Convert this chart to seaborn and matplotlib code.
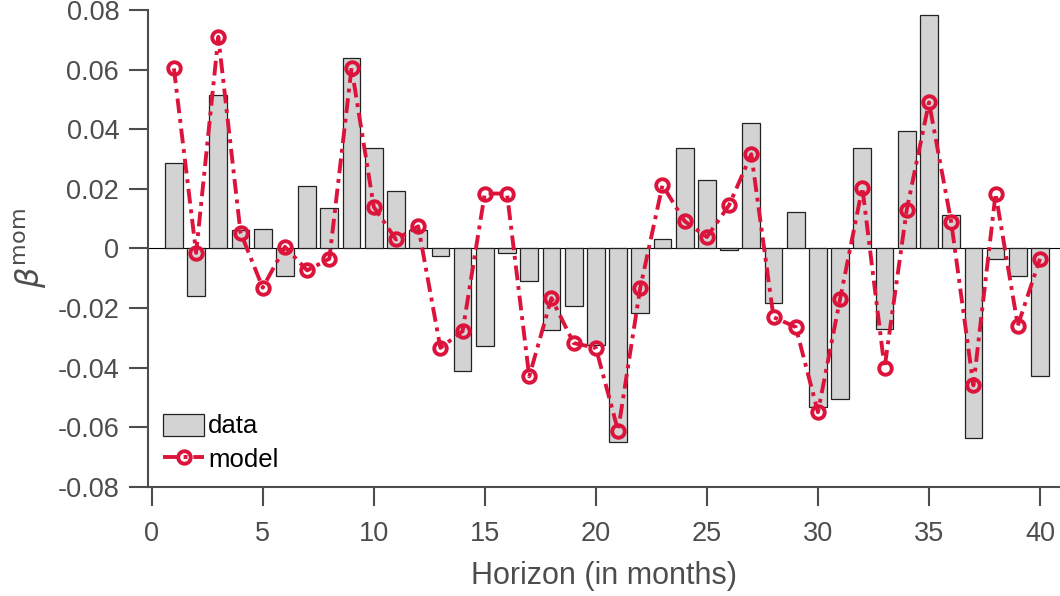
import numpy as np
import matplotlib
matplotlib.use("Agg")
import matplotlib.pyplot as plt
import seaborn as sns

# horizon in months
horizon = list(range(1, 41))

# momentum beta, data (bars)
data = [0.0285, -0.0160, 0.0514, 0.0060, 0.0064, -0.0093, 0.0209, 0.0135, 0.0640, 0.0337,
        0.0193, 0.0060, -0.0027, -0.0410, -0.0328, -0.0017, -0.0111, -0.0275, -0.0192, -0.0323,
        -0.0651, -0.0216, 0.0033, 0.0337, 0.0231, -0.0007, 0.0421, -0.0184, 0.0121, -0.0533,
        -0.0505, 0.0338, -0.0272, 0.0393, 0.0784, 0.0111, -0.0636, -0.0037, -0.0094, -0.0427]

# momentum beta, model (line)
model = [0.0604, -0.0015, 0.0710, 0.0053, -0.0132, 0.0005, -0.0074, -0.0035, 0.0606, 0.0139,
         0.0030, 0.0074, -0.0334, -0.0278, 0.0184, 0.0184, -0.0430, -0.0167, -0.0318, -0.0334,
         -0.0612, -0.0132, 0.0212, 0.0091, 0.0038, 0.0145, 0.0316, -0.0231, -0.0264, -0.0550,
         -0.0169, 0.0204, -0.0401, 0.0130, 0.0490, 0.0089, -0.0460, 0.0184, -0.0259, -0.0035]

xticks = [0, 5, 10, 15, 20, 25, 30, 35, 40]
yticks = [-0.08, -0.06, -0.04, -0.02, 0, 0.02, 0.04, 0.06, 0.08]
ytick_labels = ['-0.08', '-0.06', '-0.04', '-0.02', '0', '0.02', '0.04', '0.06', '0.08']

red = '#DC143C'
gray = '#4d4d4d'

sns.set_style("ticks")
plt.rcParams['font.family'] = ['Liberation Sans', 'DejaVu Sans']

fig = plt.figure(figsize=(10.6, 5.96), dpi=100)
ax = fig.add_axes([0.1399, 0.1834, 0.8601, 0.7998])

# baseline at zero
ax.axhline(0, color='black', lw=0.8, zorder=1)

sns.barplot(x=horizon, y=data, native_scale=True, width=0.8, color='#d3d3d3',
            saturation=1, edgecolor='#222222', linewidth=0.9, label='data',
            ax=ax, zorder=2)

sns.lineplot(x=horizon, y=model, color=red, lw=2.8,
             linestyle=(0, (3.8, 1.5, 1.0, 1.5)),
             marker='o', markersize=9, markerfacecolor='none',
             markeredgecolor=red, markeredgewidth=2.8, label='model',
             ax=ax, zorder=3)

ax.set_xlim(-0.153, 40.9)
ax.set_ylim(-0.08, 0.08)
ax.set_xticks(xticks)
ax.set_xticklabels([str(t) for t in xticks])
ax.set_yticks(yticks)
ax.set_yticklabels(ytick_labels)

sns.despine(ax=ax)
for side in ['left', 'bottom']:
    ax.spines[side].set_linewidth(1.5)
    ax.spines[side].set_color(gray)
ax.tick_params(direction='out', length=14, width=1.5, color=gray,
               labelcolor=gray, labelsize=19.5)
ax.tick_params(axis='y', pad=7)
ax.tick_params(axis='x', pad=11)

ax.set_xlabel('Horizon (in months)', fontsize=22, color=gray, labelpad=10)
ax.set_ylabel(r'$\beta^{\rm mom}$', fontsize=23, color=gray, labelpad=6)

handles, labels = ax.get_legend_handles_labels()
order = [labels.index('data'), labels.index('model')]
leg = ax.legend([handles[i] for i in order], [labels[i] for i in order],
                loc='lower left', bbox_to_anchor=(0.0165, 0.03), frameon=False,
                fontsize=18.5, handlelength=1.6, handleheight=0.95,
                handletextpad=0.15, labelspacing=0.35, borderpad=0, borderaxespad=0)
for t in leg.get_texts():
    t.set_color('black')

fig.savefig('out.png', dpi=100)
